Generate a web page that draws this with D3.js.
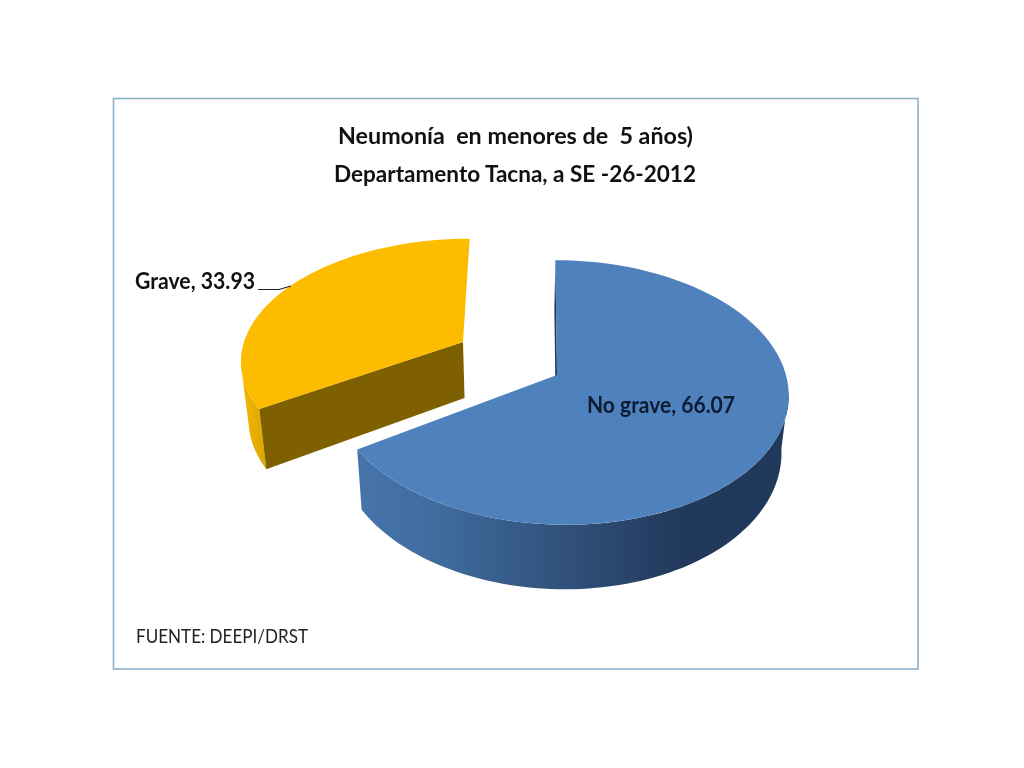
<!DOCTYPE html>
<html><head><meta charset="utf-8">
<script src="https://cdn.jsdelivr.net/npm/d3@7"></script>
<style>html,body{margin:0;padding:0;background:#fff}svg{display:block;filter:blur(0.5px)}</style>
</head><body><svg id="c" width="1024" height="768"></svg>
<script>
const categories = ["No grave", "Grave"];
const seriesValues = [66.07, 33.93];
const titleLines = ["Neumonía  en menores de  5 años)", "Departamento Tacna, a SE -26-2012"];
const sourceNote = "FUENTE: DEEPI/DRST";

const svg = d3.select("#c");
const defs = svg.append("defs");
function grad(id, x1, x2, stops){
  const g = defs.append("linearGradient").attr("id", id).attr("gradientUnits","userSpaceOnUse")
    .attr("x1",x1).attr("x2",x2).attr("y1",0).attr("y2",0);
  stops.forEach(s=>g.append("stop").attr("offset",s[0]).attr("stop-color",s[1]));
}
grad("blueSide",358,790,[[0,"#4674ab"],[0.2,"#3f6a9c"],[0.5,"#2f4f78"],[0.75,"#21395a"],[1,"#20395a"]]);
grad("yellowSide",243,270,[[0,"#f2b500"],[1,"#d9a304"]]);

svg.append("rect").attr("x",113.5).attr("y",98.5).attr("width",804.5).attr("height",570.5)
  .attr("fill","#fff").attr("stroke","#8eb0c6").attr("stroke-width",1.6);

const pie = d3.pie().sort(null).startAngle(0).endAngle(2*Math.PI).value(d=>d);
const arcs = pie(seriesValues);

const VX = 520, K = 0.132, SHRINK = 0.973, DEPTH = 56;
const layout = [
  {ax:560, apexX:557, ay:375, R:226, S:130, top:"#4f81bd", side:"url(#blueSide)", cut:"#1f3552"},
  {ax:463, apexX:463, ay:342, R:219, S:117, top:"#fdbc00", side:"url(#yellowSide)", cut:"#7f6000"}
];
const wallSpan = [[Math.PI*0.54, null], [null, Math.PI*1.435]];
function proj(l, a){
  const u=Math.sin(a), v=Math.cos(a), w=1+K*v;
  return [VX+(l.ax-VX+l.R*u)/w, l.ay-l.S*v/w];
}
function base(l, a){
  const p = proj(l,a), w = 1+K*Math.cos(a);
  return [VX+(p[0]-VX)*SHRINK, p[1]+DEPTH/w];
}
const apexBase = l => [VX+(l.apexX-VX)*SHRINK, l.ay+DEPTH];
const line = d3.line();
const samples = (a0,a1)=>d3.range(0,81).map(i=>a0+(a1-a0)*i/80);

arcs.forEach((d,i)=>{
  const l = layout[i], g = svg.append("g");
  const a0=d.startAngle, a1=d.endAngle;
  const wall = samples(wallSpan[i][0] ?? a0, wallSpan[i][1] ?? a1);
  g.append("path").attr("d",line(wall.map(a=>proj(l,a)).concat(wall.slice().reverse().map(a=>base(l,a))))+"Z").attr("fill",l.side);
  g.append("path").attr("d",line([[l.apexX,l.ay],proj(l,a0),base(l,a0),apexBase(l)])+"Z").attr("fill",l.cut);
  const t=samples(a0,a1);
  g.append("path").attr("d",line([[l.apexX,l.ay]].concat(t.map(a=>proj(l,a))))+"Z").attr("fill",l.top);
});

const FONT="Lato, 'Open Sans', sans-serif";
const titleWidths=[355,362];
svg.selectAll("text.title").data(titleLines).join("text").attr("class","title")
  .attr("x",(d,i)=>i?334:338).attr("y",(d,i)=>144+i*38).attr("xml:space","preserve")
  .attr("textLength",(d,i)=>titleWidths[i]).attr("lengthAdjust","spacingAndGlyphs")
  .style("white-space","pre").attr("font-family",FONT).attr("font-weight",700).attr("font-size",23.5).attr("fill","#111").text(d=>d);

svg.append("text").attr("x",587).attr("y",413).attr("textLength",148).attr("lengthAdjust","spacingAndGlyphs").attr("font-family",FONT)
  .attr("font-weight",700).attr("font-size",22.5).attr("fill","#0d1b33").text(`${categories[0]}, ${seriesValues[0]}`);
svg.append("text").attr("x",135).attr("y",289).attr("textLength",120).attr("lengthAdjust","spacingAndGlyphs").attr("font-family",FONT)
  .attr("font-weight",700).attr("font-size",22.5).attr("fill","#111").text(`${categories[1]}, ${seriesValues[1]}`);
svg.append("path").attr("d","M258,289.5H279L291,286").attr("fill","none").attr("stroke","#222").attr("stroke-width",1.2);
svg.append("text").attr("x",136).attr("y",643).attr("textLength",172).attr("lengthAdjust","spacingAndGlyphs").attr("font-family",FONT)
  .attr("font-size",20).attr("fill","#222").text(sourceNote);
</script></body></html>
